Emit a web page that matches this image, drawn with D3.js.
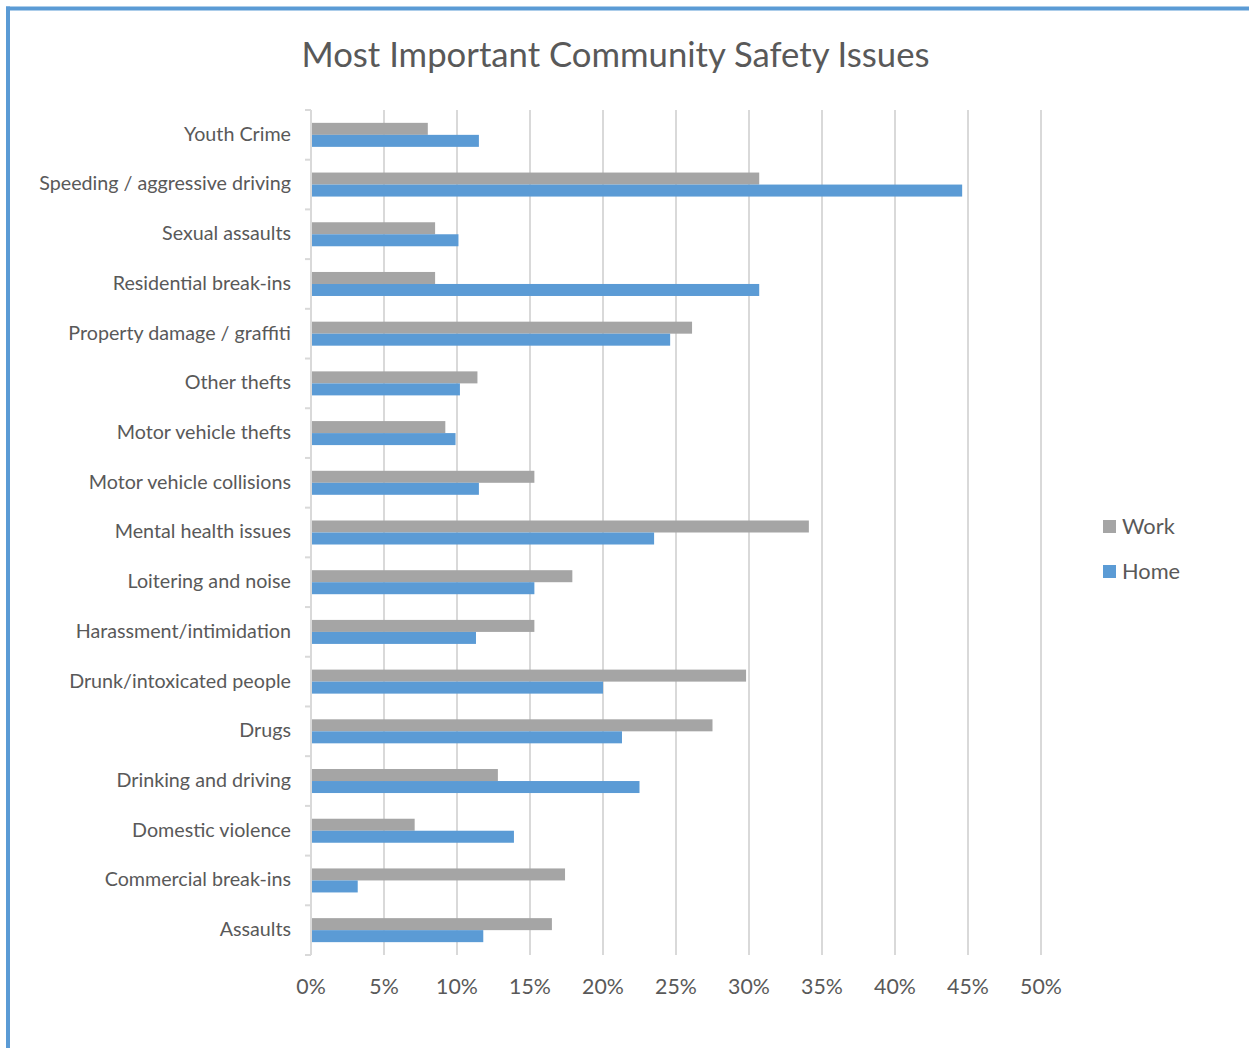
<!DOCTYPE html>
<html>
<head>
<meta charset="utf-8">
<script src="https://cdn.jsdelivr.net/npm/d3@7"></script>
<style>
  html, body { margin: 0; padding: 0; background: #fff; }
  svg { display: block; font-family: Lato, "Open Sans", sans-serif; }
</style>
</head>
<body>
<svg id="chart" width="1249" height="1048"></svg>
<script>
// Share of respondents naming each issue (%)
const categories = [
  "Youth Crime",
  "Speeding / aggressive driving",
  "Sexual assaults",
  "Residential break-ins",
  "Property damage / graffiti",
  "Other thefts",
  "Motor vehicle thefts",
  "Motor vehicle collisions",
  "Mental health issues",
  "Loitering and noise",
  "Harassment/intimidation",
  "Drunk/intoxicated people",
  "Drugs",
  "Drinking and driving",
  "Domestic violence",
  "Commercial break-ins",
  "Assaults"
];
const seriesNames = ["Work", "Home"];
const workValues = [8.0, 30.7, 8.5, 8.5, 26.1, 11.4, 9.2, 15.3, 34.1, 17.9, 15.3, 29.8, 27.5, 12.8, 7.1, 17.4, 16.5];
const homeValues = [11.5, 44.6, 10.1, 30.7, 24.6, 10.2, 9.9, 11.5, 23.5, 15.3, 11.3, 20.0, 21.3, 22.5, 13.9, 3.2, 11.8];
const xTicks = [0, 5, 10, 15, 20, 25, 30, 35, 40, 45, 50];
const colors = { Work: "#a5a5a5", Home: "#5b9bd5" };

const svg = d3.select("#chart");
const W = 1249, H = 1048;

// Frame lines along the top and left edges
svg.append("line").attr("x1", 6).attr("x2", W).attr("y1", 8.5).attr("y2", 8.5)
  .attr("stroke", "#5b9bd5").attr("stroke-width", 4);
svg.append("line").attr("x1", 8).attr("x2", 8).attr("y1", 6.5).attr("y2", H)
  .attr("stroke", "#5b9bd5").attr("stroke-width", 4);

// Title
svg.append("text")
  .attr("x", 615.5).attr("y", 67)
  .attr("text-anchor", "middle")
  .attr("fill", "#595959")
  .attr("font-size", 34.7)
  .text("Most Important Community Safety Issues");

const plot = { left: 311, right: 1041, top: 110, bottom: 955 };

const x = d3.scaleLinear().domain([0, 50]).range([plot.left, plot.right]);
const y0 = d3.scaleBand().domain(categories).range([plot.top, plot.bottom]);
const y1 = d3.scaleBand().domain(seriesNames).range([0, y0.bandwidth()]).paddingOuter(1.07).paddingInner(0);

// Vertical gridlines
svg.append("g").selectAll("line").data(xTicks.filter(d => d > 0)).join("line")
  .attr("x1", d => x(d)).attr("x2", d => x(d))
  .attr("y1", plot.top).attr("y2", plot.bottom)
  .attr("stroke", "#d9d9d9").attr("stroke-width", 2);

// Category axis line with tick marks at band boundaries
svg.append("line")
  .attr("x1", plot.left).attr("x2", plot.left)
  .attr("y1", plot.top).attr("y2", plot.bottom)
  .attr("stroke", "#d9d9d9").attr("stroke-width", 2);
const boundaries = categories.map(c => y0(c)).concat([plot.bottom]);
svg.append("g").selectAll("line").data(boundaries).join("line")
  .attr("x1", plot.left - 6).attr("x2", plot.left)
  .attr("y1", d => d).attr("y2", d => d)
  .attr("stroke", "#d9d9d9").attr("stroke-width", 2);

// Bars
const rows = categories.map((c, i) => ({ c, Work: workValues[i], Home: homeValues[i] }));
const groups = svg.append("g").selectAll("g").data(rows).join("g")
  .attr("transform", d => `translate(0,${y0(d.c)})`);
groups.selectAll("rect").data(d => seriesNames.map(s => ({ s, v: d[s] }))).join("rect")
  .attr("x", x(0) + 1)
  .attr("y", d => y1(d.s))
  .attr("width", d => x(d.v) - x(0) - 1)
  .attr("height", y1.bandwidth())
  .attr("fill", d => colors[d.s]);

// Category labels
svg.append("g").selectAll("text").data(categories).join("text")
  .attr("x", 291)
  .attr("y", d => y0(d) + y0.bandwidth() / 2)
  .attr("dy", "0.3em")
  .attr("text-anchor", "end")
  .attr("fill", "#595959")
  .attr("font-size", 19.7)
  .text(d => d);

// Value axis labels
svg.append("g").selectAll("text").data(xTicks).join("text")
  .attr("x", d => x(d))
  .attr("y", 994)
  .attr("text-anchor", "middle")
  .attr("fill", "#595959")
  .attr("font-size", 21.3)
  .text(d => d + "%");

// Legend
const legend = svg.append("g").selectAll("g").data(seriesNames).join("g")
  .attr("transform", (d, i) => `translate(1103,${520 + i * 45})`);
legend.append("rect").attr("width", 13).attr("height", 13).attr("fill", d => colors[d]);
legend.append("text").attr("x", 19).attr("y", 6.5).attr("dy", "0.34em")
  .attr("fill", "#595959").attr("font-size", 21.8).text(d => d);
</script>
</body>
</html>
